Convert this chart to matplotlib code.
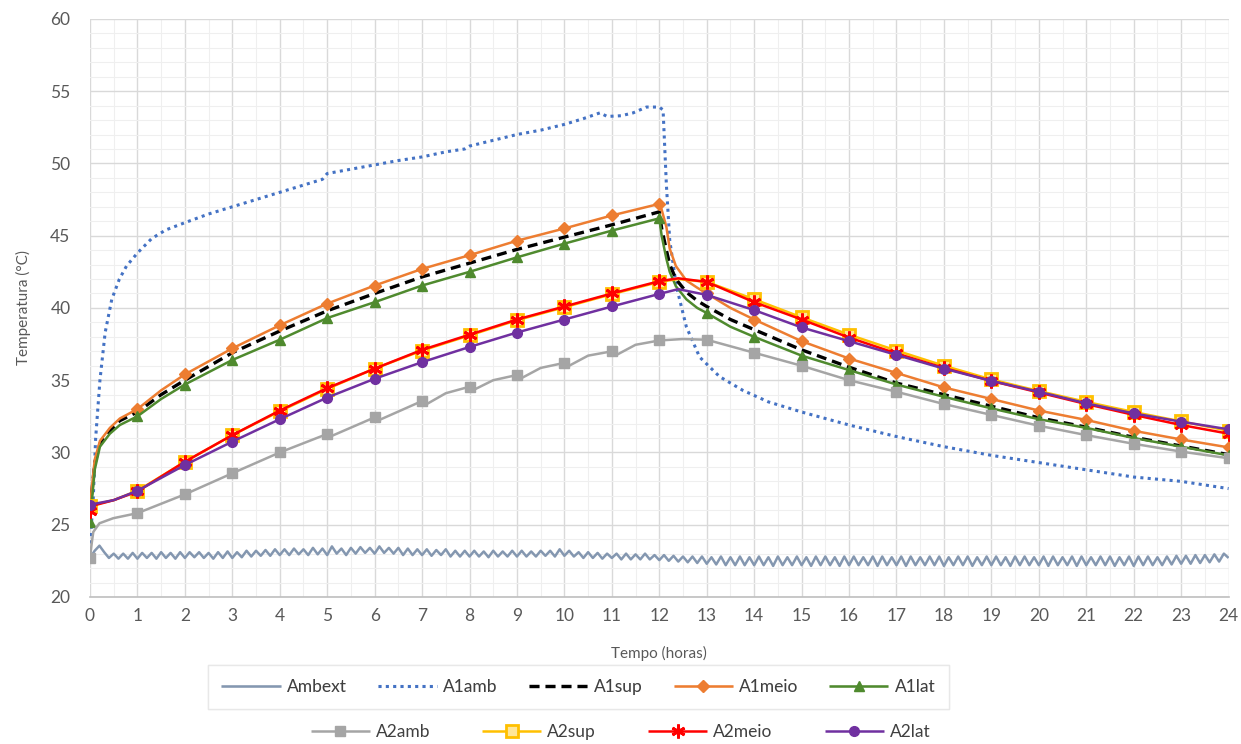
import numpy as np
import matplotlib
matplotlib.use("Agg")
import matplotlib.pyplot as plt

plt.rcParams['font.family'] = ['Lato', 'DejaVu Sans']

# ---------------- data ----------------
# Ambext: oscillating outdoor temperature, sampled every 0.1 h (one row per hour)
ambext_rows = [
    [22.7, 23.2, 23.55, 23.1, 22.7, 23.0, 22.65, 23.0, 22.65, 23.05],
    [22.65, 23.05, 22.7, 23.05, 22.65, 23.1, 22.7, 23.05, 22.65, 23.1],
    [22.7, 23.1, 22.75, 23.1, 22.7, 23.05, 22.65, 23.1, 22.7, 23.15],
    [22.7, 23.1, 22.75, 23.2, 22.8, 23.2, 22.85, 23.25, 22.85, 23.3],
    [22.9, 23.3, 22.9, 23.35, 22.95, 23.3, 22.9, 23.4, 22.95, 23.35],
    [22.9, 23.5, 23.0, 23.35, 22.9, 23.4, 23.0, 23.45, 23.05, 23.4],
    [23.0, 23.5, 23.05, 23.4, 23.0, 23.4, 22.9, 23.35, 22.9, 23.3],
    [22.9, 23.3, 22.85, 23.25, 22.9, 23.3, 22.8, 23.2, 22.8, 23.2],
    [22.8, 23.2, 22.8, 23.15, 22.75, 23.2, 22.8, 23.15, 22.8, 23.2],
    [22.8, 23.2, 22.8, 23.15, 22.8, 23.2, 22.85, 23.2, 22.8, 23.3],
    [22.85, 23.2, 22.8, 23.1, 22.7, 23.1, 22.7, 23.05, 22.65, 23.0],
    [22.7, 23.0, 22.6, 23.0, 22.6, 22.95, 22.6, 23.0, 22.6, 22.9],
    [22.55, 22.9, 22.5, 22.85, 22.45, 22.8, 22.4, 22.8, 22.35, 22.8],
    [22.3, 22.75, 22.25, 22.8, 22.2, 22.75, 22.2, 22.8, 22.2, 22.75],
    [22.2, 22.8, 22.2, 22.75, 22.15, 22.8, 22.2, 22.75, 22.2, 22.8],
    [22.2, 22.75, 22.15, 22.8, 22.2, 22.8, 22.2, 22.75, 22.15, 22.8],
    [22.2, 22.8, 22.2, 22.75, 22.2, 22.8, 22.15, 22.8, 22.2, 22.75],
    [22.2, 22.8, 22.15, 22.8, 22.2, 22.75, 22.2, 22.8, 22.2, 22.8],
    [22.15, 22.75, 22.2, 22.8, 22.2, 22.8, 22.15, 22.75, 22.2, 22.8],
    [22.2, 22.8, 22.2, 22.75, 22.15, 22.8, 22.2, 22.8, 22.2, 22.75],
    [22.2, 22.8, 22.15, 22.8, 22.2, 22.75, 22.2, 22.8, 22.15, 22.8],
    [22.2, 22.75, 22.2, 22.8, 22.2, 22.8, 22.15, 22.75, 22.2, 22.8],
    [22.15, 22.8, 22.2, 22.8, 22.2, 22.75, 22.2, 22.8, 22.25, 22.85],
    [22.3, 22.85, 22.3, 22.9, 22.35, 22.9, 22.4, 22.95, 22.45, 23.0],
]
ambext_last = 22.7

# A1amb
t_a1amb = [0, 0.03, 0.07, 0.12, 0.21, 0.32, 0.46, 0.62, 0.77, 1, 1.3, 1.6, 2, 2.5, 3, 3.5,
           4, 4.5, 4.9, 5.0, 5.5, 6, 6.5, 7, 7.5, 7.9, 8.0, 8.5, 9, 9.5, 10, 10.4, 10.75,
           10.9, 11.2, 11.45, 11.73, 12.0, 12.08, 12.15, 12.22, 12.36, 12.57, 12.85, 13.27,
           13.76, 14.3, 15, 16, 17, 18, 19, 20, 21, 22, 23, 24]
A1amb = [23.2, 25.0, 26.9, 31.0, 35.0, 38.3, 40.6, 42.0, 42.9, 43.8, 44.8, 45.4, 45.9, 46.5,
         47.0, 47.5, 48.0, 48.5, 48.9, 49.3, 49.6, 49.9, 50.2, 50.45, 50.8, 51.0, 51.2, 51.6,
         52.0, 52.3, 52.7, 53.1, 53.5, 53.25, 53.3, 53.5, 53.9, 53.9, 53.7, 48.5, 44.7, 41.5,
         38.7, 36.6, 35.25, 34.3, 33.5, 32.8, 31.9, 31.1, 30.4, 29.8, 29.3, 28.8, 28.3, 28.0,
         27.5]

# A1 group (A1sup, A1meio, A1lat)
t_a1 = [0, 0.1, 0.21, 0.42, 0.63, 1, 1.5, 2, 3, 4, 5, 6, 7, 8, 9, 10, 11, 12, 12.05, 12.15,
        12.22, 12.35, 12.57, 12.8, 13, 13.5, 14, 15, 16, 17, 18, 19, 20, 21, 22, 23, 24]
A1meio = [26.3, 29.5, 30.8, 31.7, 32.35, 33.0, 34.3, 35.4, 37.2, 38.8, 40.3, 41.55, 42.7,
          43.65, 44.65, 45.5, 46.4, 47.2, 46.8, 45.6, 44.1, 42.9, 41.9, 41.4, 41.0, 40.0,
          39.2, 37.7, 36.5, 35.5, 34.5, 33.7, 32.9, 32.25, 31.5, 30.9, 30.35]
A1sup = [26.0, 29.2, 30.6, 31.5, 32.2, 32.8, 34.0, 35.0, 36.9, 38.4, 39.8, 41.0, 42.15,
         43.1, 44.05, 44.9, 45.75, 46.65, 45.5, 44.0, 43.0, 42.0, 41.1, 40.5, 40.1, 39.2,
         38.5, 37.1, 35.9, 34.8, 34.0, 33.2, 32.4, 31.75, 31.05, 30.45, 29.85]
A1lat = [25.2, 28.8, 30.4, 31.3, 31.9, 32.5, 33.7, 34.7, 36.4, 37.8, 39.3, 40.4, 41.55,
         42.5, 43.5, 44.45, 45.35, 46.2, 45.0, 43.4, 42.5, 41.5, 40.6, 40.0, 39.65, 38.7,
         38.0, 36.7, 35.7, 34.7, 33.85, 33.05, 32.3, 31.7, 31.0, 30.4, 29.8]

# A2amb
t_a2amb = [0, 0.04, 0.07, 0.2, 0.49, 1, 2, 3, 4, 5, 5.1, 6, 6.1, 7, 7.1, 7.5, 8, 8.1, 8.5,
           9, 9.1, 9.5, 10, 10.1, 10.5, 11, 11.1, 11.5, 12, 12.5, 13, 14, 15, 16, 17, 18,
           19, 20, 21, 22, 23, 24]
A2amb = [22.7, 23.8, 24.5, 25.1, 25.45, 25.8, 27.1, 28.56, 30.0, 31.28, 31.15, 32.43, 32.25,
         33.56, 33.35, 34.1, 34.55, 34.35, 35.0, 35.36, 35.15, 35.85, 36.2, 36.0, 36.7,
         37.0, 36.75, 37.45, 37.75, 37.85, 37.8, 36.9, 36.0, 35.0, 34.2, 33.35, 32.6, 31.85,
         31.2, 30.6, 30.06, 29.6]

# A2 group (A2sup, A2meio, A2lat)
t_a2 = [0, 0.1, 0.5, 1, 2, 3, 4, 5, 6, 7, 8, 9, 10, 11, 12, 12.4, 13, 14, 15, 16, 17, 18,
        19, 20, 21, 22, 23, 24]
A2sup = [26.3, 26.4, 26.7, 27.35, 29.35, 31.2, 32.85, 34.4, 35.8, 37.05, 38.1, 39.15, 40.05,
         40.95, 41.8, 42.0, 41.8, 40.6, 39.35, 38.15, 37.05, 36.0, 35.05, 34.25, 33.5, 32.8,
         32.15, 31.5]
A2meio = [25.95, 26.35, 26.7, 27.3, 29.36, 31.2, 32.9, 34.45, 35.8, 37.1, 38.15, 39.2, 40.1,
          41.0, 41.85, 42.05, 41.8, 40.4, 39.2, 37.95, 36.85, 35.85, 34.95, 34.15, 33.35,
          32.6, 31.9, 31.3]
A2lat = [26.36, 26.45, 26.7, 27.35, 29.13, 30.75, 32.3, 33.8, 35.1, 36.25, 37.3, 38.3, 39.2,
         40.1, 40.97, 41.3, 40.9, 39.85, 38.65, 37.7, 36.75, 35.8, 34.95, 34.2, 33.4, 32.7,
         32.13, 31.6]

x_ticks = list(range(0, 25))
y_ticks = [20, 25, 30, 35, 40, 45, 50, 55, 60]

# ---------------- figure ----------------
fig = plt.figure(figsize=(12.41, 7.44), dpi=100)
ax = fig.add_axes([0.0725, 0.1976, 0.9175, 0.777])

amb_vals = [v for row in ambext_rows for v in row] + [ambext_last]
t_amb = np.linspace(0, 24, len(amb_vals))


def hour_marks(t):
    t = np.asarray(t, dtype=float)
    return list(np.where(np.isclose(t, np.round(t)))[0])


series = [
    ("Ambext", t_amb, amb_vals, dict(color="#8497B0", lw=1.8, ls="-")),
    ("A1amb", t_a1amb, A1amb, dict(color="#4472C4", lw=2.2, ls=(0, (1, 1.4)))),
    ("A1sup", t_a1, A1sup, dict(color="black", lw=2.4, ls=(0, (3, 1.8)))),
    ("A1meio", t_a1, A1meio, dict(color="#ED7D31", lw=1.8, marker="D", ms=6,
                                  mfc="#ED7D31", mec="#ED7D31")),
    ("A1lat", t_a1, A1lat, dict(color="#4F8A2E", lw=1.8, marker="^", ms=6.5,
                                mfc="#4F8A2E", mec="#4F8A2E")),
    ("A2amb", t_a2amb, A2amb, dict(color="#A5A5A5", lw=1.8, marker="s", ms=7,
                                   mfc="#A5A5A5", mec="#A5A5A5")),
    ("A2sup", t_a2, A2sup, dict(color="#FFC000", lw=1.8, marker="s", ms=8,
                                mfc="#FFE699", mec="#FFC000", mew=2)),
    ("A2meio", t_a2, A2meio, dict(color="#FF0000", lw=1.8, marker=(6, 2, 0), ms=10,
                                  mfc="#FF0000", mec="#FF0000", mew=2)),
    ("A2lat", t_a2, A2lat, dict(color="#7030A0", lw=1.8, marker="o", ms=7,
                                mfc="#7030A0", mec="#7030A0")),
]

handles = []
for i, (name, t, v, style) in enumerate(series):
    kw = dict(style)
    if "marker" in kw:
        kw["markevery"] = hour_marks(t)
    ln, = ax.plot(t, v, label=name, zorder=3 + i, solid_capstyle="butt",
                  dash_capstyle="butt", **kw)
    handles.append(ln)

ax.set_xlim(0, 24)
ax.set_ylim(20, 60)
ax.set_xticks(x_ticks)
ax.set_yticks(y_ticks)
ax.set_xticks(np.arange(0, 24.01, 0.5), minor=True)
ax.set_yticks(np.arange(20, 60.01, 1), minor=True)
ax.grid(which="major", color="#D9D9D9", lw=1.0, zorder=0)
ax.grid(which="minor", color="#EFEFEF", lw=0.8, zorder=0)
ax.set_axisbelow(True)
for s in ["top", "right", "left"]:
    ax.spines[s].set_visible(False)
ax.spines["bottom"].set_color("#BFBFBF")
ax.spines["bottom"].set_linewidth(1.2)
ax.tick_params(which="both", length=0, labelsize=12.5, labelcolor="#595959", pad=8)
ax.tick_params(axis="y", pad=14)

ax.set_xlabel("Tempo (horas)", fontsize=11, color="#595959", labelpad=16)
ax.set_ylabel("Temperatura (°C)", fontsize=11, color="#595959", labelpad=14)

leg1 = fig.legend(handles=handles[:5], loc="center", bbox_to_anchor=(0.466, 0.077),
                  ncol=5, frameon=True, fontsize=12.5, handlelength=3.4,
                  columnspacing=1.8, handletextpad=0.35, borderpad=0.5)
leg1.get_frame().set_edgecolor("#E6E6E6")
leg1.get_frame().set_linewidth(1.0)
leg1.get_frame().set_boxstyle("square", pad=0.3)
for txt in leg1.get_texts():
    txt.set_color("#404040")
fig.add_artist(leg1)
leg2 = fig.legend(handles=handles[5:], loc="center", bbox_to_anchor=(0.5, 0.016),
                  ncol=4, frameon=False, fontsize=12.5, handlelength=3.4,
                  columnspacing=3.0, handletextpad=0.35)
for txt in leg2.get_texts():
    txt.set_color("#404040")

fig.savefig("out.png", dpi=100)
